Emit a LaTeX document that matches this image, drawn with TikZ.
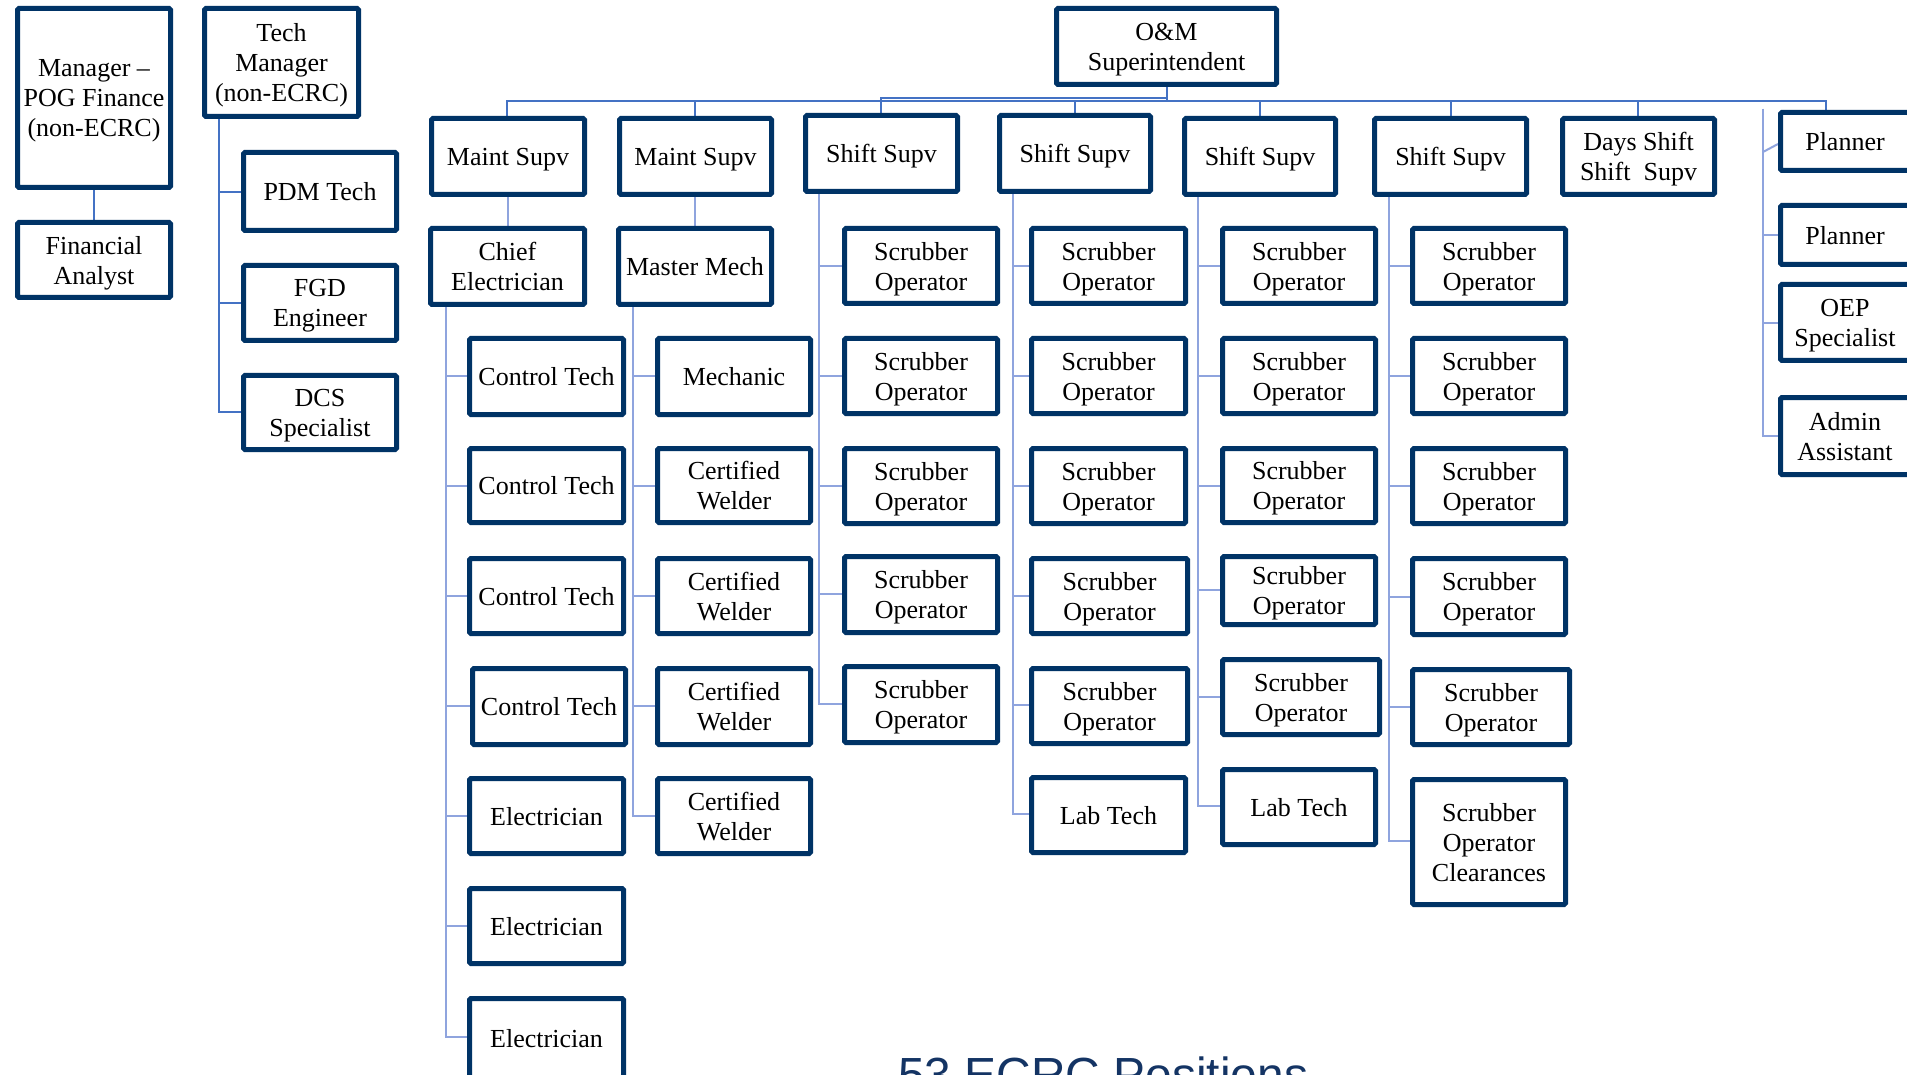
\documentclass[tikz,border=0pt]{standalone}
\usepackage{fontspec}
\setmainfont{Liberation Serif}
\newfontfamily\sansf{Liberation Sans}
\definecolor{navy}{RGB}{0,51,102}
\definecolor{busblue}{RGB}{68,114,196}
\definecolor{subblue}{RGB}{143,164,222}
\definecolor{titleblue}{RGB}{20,52,100}
\tikzset{
  ebox/.style={draw=navy, line width=5pt, rounded corners=1.5pt, fill=white,
    inner sep=0pt, outer sep=0pt, align=center, text=black, text depth=0pt,
    font=\fontsize{26}{30}\selectfont},
  bus/.style={draw=busblue, line width=2pt},
  sub/.style={draw=subblue, line width=2pt},
}
\newcommand\obox[6]{%
  \node[ebox, minimum width={#4-#2-5}, minimum height={#5-#3-5}]
    (#1) at ({(#2+#4)/2},{(#3+#5)/2}) {#6};}
\begin{document}
\begin{tikzpicture}[x=1pt,y=-1pt]
\useasboundingbox (0,0) rectangle (1907,1075);
\clip (0,0) rectangle (1907,1075);
\fill[white] (0,0) rectangle (1907,1075);

% coordinates for connectors
\coordinate (bus) at (0,101);
\coordinate (bus2) at (0,98);
\coordinate (pltop) at (1826,110);
\coordinate (tmv) at (219,119);
\coordinate (cev) at (446,307);
\coordinate (mmv) at (633,307);
\coordinate (v1) at (819,194);
\coordinate (v2) at (1013,194);
\coordinate (v3) at (1198,197);
\coordinate (v4) at (1389,197);
\coordinate (pvt) at (1763,109);
\coordinate (pj) at (1763,152);

% connectors (drawn first, boxes cover ends)
\draw[bus] (94,190) -- (94,220);
\draw[bus] (tmv) |- (241,192);
\draw[bus] (tmv) |- (241,303);
\draw[bus] (tmv) |- (241,412);
\draw[bus] (1167,87) -- (1167,101);
\draw[bus] (507,116) |- (1826,101) -- (pltop);
\draw[bus] (881,113) |- (1167,98);
\foreach \x in {695,1075,1260,1451,1638} \draw[bus] (\x,116) -- (\x,101);
\draw[sub] (508,197) -- (508,226);
\draw[sub] (695,197) -- (695,226);
\draw[sub] (cev) |- (467,376);
\draw[sub] (cev) |- (467,486);
\draw[sub] (cev) |- (467,596);
\draw[sub] (cev) |- (470,706);
\draw[sub] (cev) |- (467,816);
\draw[sub] (cev) |- (467,926);
\draw[sub] (cev) |- (467,1037);
\draw[sub] (mmv) |- (655,376);
\draw[sub] (mmv) |- (655,486);
\draw[sub] (mmv) |- (655,596);
\draw[sub] (mmv) |- (655,706);
\draw[sub] (mmv) |- (655,816);
\foreach \y in {266,376,486,594,704} \draw[sub] (v1) |- (842,\y);
\foreach \y in {266,376,486,596,705,814} \draw[sub] (v2) |- (1029,\y);
\foreach \y in {266,376,486,590,697,806} \draw[sub] (v3) |- (1220,\y);
\foreach \y in {266,376,486,597,707,841} \draw[sub] (v4) |- (1410,\y);
\draw[sub] (pvt) |- (1778,235);
\draw[sub] (pvt) |- (1778,323);
\draw[sub] (pvt) |- (1778,436);
\draw[sub] (pj) -- (1778,144);

% left boxes
\obox{mgr}{15}{6}{173}{190}{Manager --\\POG Finance\\(non-ECRC)}
\obox{fa}{15}{220}{173}{300}{Financial\\Analyst}
\obox{tm}{202}{6}{361}{119}{Tech\\Manager\\(non-ECRC)}
\obox{pdm}{241}{150}{399}{233}{PDM Tech}
\obox{fgd}{241}{263}{399}{343}{FGD\\Engineer}
\obox{dcs}{241}{373}{399}{452}{DCS\\Specialist}

% top row
\obox{om}{1054}{6}{1279}{87}{O\&M\\Superintendent}
\obox{ms1}{429}{116}{587}{197}{Maint Supv}
\obox{ms2}{617}{116}{774}{197}{Maint Supv}
\obox{ss1}{803}{113}{960}{194}{Shift Supv}
\obox{ss2}{997}{113}{1153}{194}{Shift Supv}
\obox{ss3}{1182}{116}{1338}{197}{Shift Supv}
\obox{ss4}{1372}{116}{1529}{197}{Shift Supv}
\obox{ds}{1560}{116}{1717}{197}{Days Shift\\Shift\ \ Supv}

% right column
\obox{pl1}{1778}{110}{1912}{173}{Planner}
\obox{pl2}{1778}{203}{1912}{267}{Planner}
\obox{oep}{1778}{282}{1912}{363}{OEP\\Specialist}
\obox{adm}{1778}{395}{1912}{477}{Admin\\Assistant}

% chief electrician column
\obox{ce}{428}{226}{587}{307}{Chief\\Electrician}
\obox{ct1}{467}{336}{626}{417}{Control Tech}
\obox{ct2}{467}{446}{626}{525}{Control Tech}
\obox{ct3}{467}{556}{626}{636}{Control Tech}
\obox{ct4}{470}{666}{628}{747}{Control Tech}
\obox{el1}{467}{776}{626}{856}{Electrician}
\obox{el2}{467}{886}{626}{966}{Electrician}
\obox{el3}{467}{996}{626}{1080}{Electrician}

% master mech column
\obox{mm}{616}{226}{774}{307}{Master Mech}
\obox{mech}{655}{336}{813}{417}{Mechanic}
\obox{cw1}{655}{446}{813}{525}{Certified\\Welder}
\obox{cw2}{655}{556}{813}{636}{Certified\\Welder}
\obox{cw3}{655}{666}{813}{747}{Certified\\Welder}
\obox{cw4}{655}{776}{813}{856}{Certified\\Welder}

% shift 1
\obox{sa1}{842}{226}{1000}{306}{Scrubber\\Operator}
\obox{sa2}{842}{336}{1000}{416}{Scrubber\\Operator}
\obox{sa3}{842}{446}{1000}{526}{Scrubber\\Operator}
\obox{sa4}{842}{554}{1000}{635}{Scrubber\\Operator}
\obox{sa5}{842}{664}{1000}{745}{Scrubber\\Operator}

% shift 2
\obox{sb1}{1029}{226}{1188}{306}{Scrubber\\Operator}
\obox{sb2}{1029}{336}{1188}{416}{Scrubber\\Operator}
\obox{sb3}{1029}{446}{1188}{526}{Scrubber\\Operator}
\obox{sb4}{1029}{556}{1190}{636}{Scrubber\\Operator}
\obox{sb5}{1029}{666}{1190}{746}{Scrubber\\Operator}
\obox{sb6}{1029}{775}{1188}{855}{Lab Tech}

% shift 3
\obox{sc1}{1220}{226}{1378}{306}{Scrubber\\Operator}
\obox{sc2}{1220}{336}{1378}{416}{Scrubber\\Operator}
\obox{sc3}{1220}{446}{1378}{525}{Scrubber\\Operator}
\obox{sc4}{1220}{554}{1378}{627}{Scrubber\\Operator}
\obox{sc5}{1220}{657}{1382}{737}{Scrubber\\Operator}
\obox{sc6}{1220}{767}{1378}{847}{Lab Tech}

% shift 4
\obox{sd1}{1410}{226}{1568}{306}{Scrubber\\Operator}
\obox{sd2}{1410}{336}{1568}{416}{Scrubber\\Operator}
\obox{sd3}{1410}{446}{1568}{526}{Scrubber\\Operator}
\obox{sd4}{1410}{556}{1568}{637}{Scrubber\\Operator}
\obox{sd5}{1410}{667}{1572}{747}{Scrubber\\Operator}
\obox{sd6}{1410}{777}{1568}{907}{Scrubber\\Operator\\Clearances}

% title (cut by the lower edge, as in the reference)
\node[anchor=north west, inner sep=0pt, text=titleblue,
  font=\sansf\fontsize{47.9}{52}\selectfont] (title) at (898,1057) {53 ECRC Positions};
\end{tikzpicture}
\end{document}
